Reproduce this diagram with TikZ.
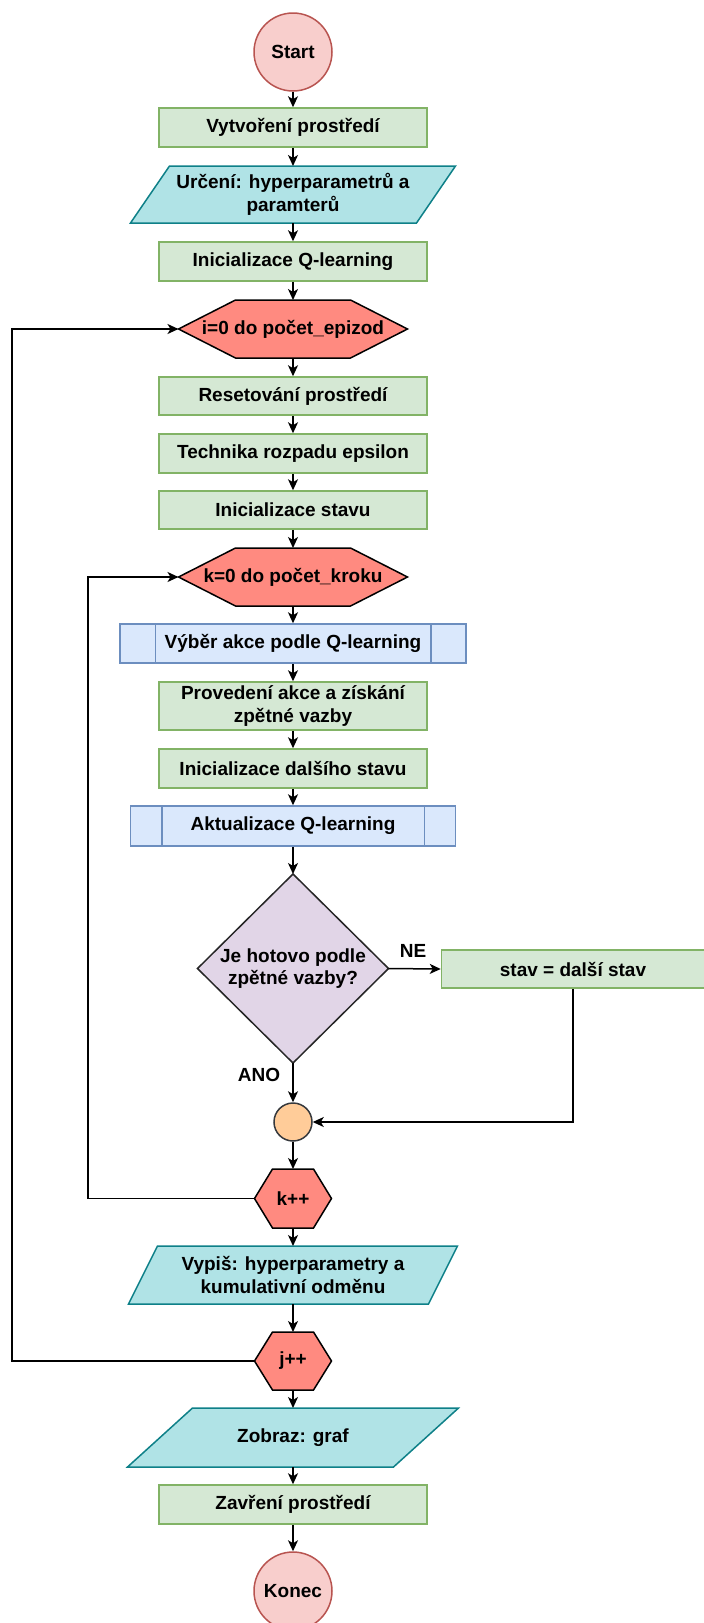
\documentclass[tikz,border=0pt]{standalone}
\usepackage{fontspec}
\setmainfont{Liberation Sans}
\usetikzlibrary{arrows.meta,backgrounds}

\definecolor{termfill}{HTML}{F8CECC}
\definecolor{termline}{HTML}{B85450}
\definecolor{procfill}{HTML}{D5E8D4}
\definecolor{procline}{HTML}{82B366}
\definecolor{iofill}{HTML}{B0E3E6}
\definecolor{ioline}{HTML}{0E8088}
\definecolor{loopfill}{HTML}{FF8A80}
\definecolor{subfill}{HTML}{DAE8FC}
\definecolor{subline}{HTML}{6C8EBF}
\definecolor{decfill}{HTML}{E1D5E7}
\definecolor{joinfill}{HTML}{FFCC99}
\definecolor{darkline}{HTML}{36393D}

\tikzset{
  every node/.style={font=\fontsize{19}{22.5}\selectfont\bfseries, text=black,
    align=center, inner sep=0pt},
  term/.style={circle, draw=termline, fill=termfill, line width=1.5pt, minimum size=78pt},
  proc/.style={rectangle, draw=procline, fill=procfill, line width=1.5pt,
    minimum width=268pt, minimum height=39pt},
  sub/.style={rectangle, draw=subline, fill=subfill, line width=1.5pt,
    minimum width=346pt, minimum height=39pt},
  outlinebox/.style={rectangle, outer sep=0pt},
  hexline/.style={draw=black, fill=loopfill, line width=1.5pt, line join=miter},
  ioshape/.style={draw=ioline, fill=iofill, line width=1.5pt},
  decshape/.style={draw=black!85, fill=decfill, line width=1.5pt},
  mergedot/.style={circle, draw=darkline, fill=joinfill, line width=1.5pt, minimum size=38pt},
  flow/.style={draw=black, line width=1.5pt, -{Stealth[length=11pt,width=10pt,inset=3pt]}},
}

% outlines drawn behind the text of invisible bounding nodes
\newcommand{\hexoutline}[2]{%
  \filldraw[hexline] (#1.west) -- ([xshift=#2]#1.north west) -- ([xshift=-#2]#1.north east)
    -- (#1.east) -- ([xshift=-#2]#1.south east) -- ([xshift=#2]#1.south west) -- cycle;}
\newcommand{\iooutline}[2]{%
  \filldraw[ioshape] ([xshift=#2]#1.north west) -- (#1.north east)
    -- ([xshift=-#2]#1.south east) -- (#1.south west) -- cycle;}
\newcommand{\subbars}[2]{%
  \draw[subline, line width=1.5pt] ([xshift=#2]#1.north west) -- ([xshift=#2]#1.south west);
  \draw[subline, line width=1.5pt] ([xshift=-#2]#1.north east) -- ([xshift=-#2]#1.south east);}

\begin{document}
\begin{tikzpicture}[x=1pt,y=-1pt]
\useasboundingbox (0,0) rectangle (704,1623);

% main column
\node[term] (start) at (293,52) {Start};
\node[proc] (vytv) at (293,127.5) {Vytvoření prostředí};
\node[outlinebox, minimum width=325pt, minimum height=57pt] (urceni) at (293,194.5)
  {Určení: hyperparametrů a\\paramterů};
\node[proc] (initq) at (293,261.5) {Inicializace Q-learning};
\node[outlinebox, minimum width=229pt, minimum height=58pt] (loopi) at (293,329)
  {i=0 do počet\_epizod};
\node[proc, minimum height=38pt] (reset) at (293,396) {Resetování prostředí};
\node[proc] (tech) at (293,453.5) {Technika rozpadu epsilon};
\node[proc, minimum height=38pt] (initstav) at (293,510) {Inicializace stavu};
\node[outlinebox, minimum width=229pt, minimum height=58pt] (loopk) at (293,577)
  {k=0 do počet\_kroku};
\node[sub] (vyber) at (293,643.5) {Výběr akce podle Q-learning};
\node[proc, minimum height=48pt] (proved) at (293,706) {Provedení akce a získání\\zpětné vazby};
\node[proc] (initdal) at (293,768.5) {Inicializace dalšího stavu};
\node[sub, minimum width=325pt, minimum height=40pt] (aktual) at (293,826) {Aktualizace Q-learning};
\node[outlinebox, minimum width=191pt, minimum height=189pt] (dec) at (293,968.5)
  {Je hotovo podle\\zpětné vazby?};
\node[proc, minimum width=263pt, minimum height=38pt] (stav) at (573,969) {stav = další stav};
\node[mergedot] (merge) at (293,1122) {};
\node[outlinebox, minimum width=77pt, minimum height=59pt] (kpp) at (293,1198.5) {k++};
\node[outlinebox, minimum width=329pt, minimum height=58pt] (vypis) at (293,1275)
  {Vypiš: hyperparametry a\\kumulativní odměnu};
\node[outlinebox, minimum width=77pt, minimum height=58pt] (ipp) at (293,1361) {j++};
\node[outlinebox, minimum width=331pt, minimum height=59pt] (zobraz) at (293,1437.5) {Zobraz: graf};
\node[proc] (zavreni) at (293,1504.5) {Zavření prostředí};
\node[term] (konec) at (293,1591) {Konec};

% branch labels
\node (ne) at (413,951) {NE};
\node (ano) at (259,1075) {ANO};

% return columns of the two loops
\coordinate (kcol) at (88,0);
\coordinate (icol) at (12,0);

\begin{pgfonlayer}{background}
  \iooutline{urceni}{39}
  \iooutline{vypis}{29}
  \iooutline{zobraz}{65}
  \hexoutline{loopi}{57}
  \hexoutline{loopk}{57}
  \hexoutline{kpp}{18}
  \hexoutline{ipp}{18}
  \filldraw[decshape] (dec.north) -- (dec.east) -- (dec.south) -- (dec.west) -- cycle;
\end{pgfonlayer}

\subbars{vyber}{36}
\subbars{aktual}{32}

% straight flow down the main column
\draw[flow] (start) -- (vytv);
\draw[flow] (vytv) -- (urceni);
\draw[flow] (urceni) -- (initq);
\draw[flow] (initq) -- (loopi);
\draw[flow] (loopi) -- (reset);
\draw[flow] (reset) -- (tech);
\draw[flow] (tech) -- (initstav);
\draw[flow] (initstav) -- (loopk);
\draw[flow] (loopk) -- (vyber);
\draw[flow] (vyber) -- (proved);
\draw[flow] (proved) -- (initdal);
\draw[flow] (initdal) -- (aktual);
\draw[flow] (aktual) -- (dec);
\draw[flow] (dec.east) -- (stav.west);
\draw[flow] (dec.south) -- (merge.north);
\draw[flow] (stav.south) |- (merge.east);
\draw[flow] (merge) -- (kpp);
\draw[flow] (kpp) -- (vypis);
\draw[flow] (vypis) -- (ipp);
\draw[flow] (ipp) -- (zobraz);
\draw[flow] (zobraz) -- (zavreni);
\draw[flow] (zavreni) -- (konec);

% loop returns
\draw[flow] (kpp.west) -- (kpp.west -| kcol) |- (loopk.west);
\draw[flow] (ipp.west) -- (ipp.west -| icol) |- (loopi.west);
\end{tikzpicture}
\end{document}
